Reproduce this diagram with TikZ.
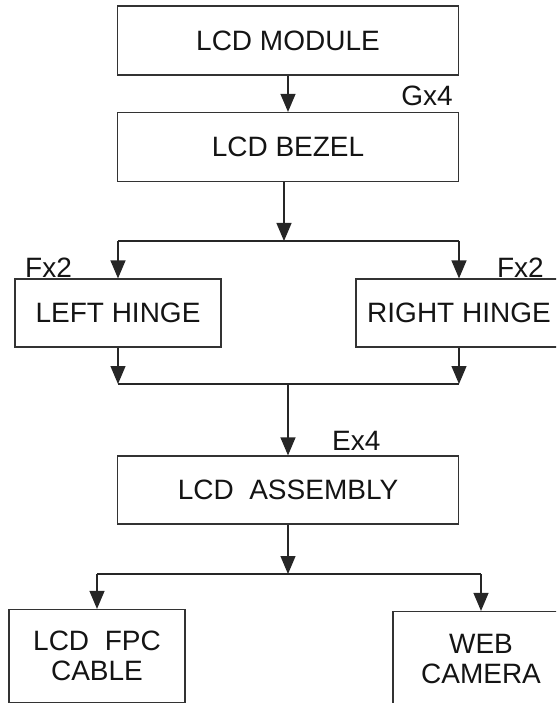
\documentclass[tikz,border=0pt]{standalone}
\usepackage{fontspec}
\setmainfont{Liberation Sans}
\usetikzlibrary{arrows.meta,positioning}

\begin{document}
\begin{tikzpicture}[x=1pt,y=-1pt]
  \def\wpart{341pt}     % width centre boxes
  \def\hpart{69pt}      % height boxes
  \def\whinge{206pt}    % width hinge boxes
  \def\wlow{176pt}      % width bottom boxes
  \def\hlow{93pt}       % height bottom boxes

  \tikzstyle{part}=[draw=black!80,line width=1.2pt,inner sep=0pt,
    minimum height=\hpart,text=black!92,font=\fontsize{28}{30}\selectfont]
  \tikzstyle{lbl}=[inner sep=0pt,text=black!92,font=\fontsize{28}{30}\selectfont]
  \tikzstyle{wire}=[black!85,line width=1.2pt]
  \tikzstyle{arr}=[wire,-{Triangle[width=15pt,length=18pt]}]

  \useasboundingbox (0,0) rectangle (556,703);
  \clip (0,0) rectangle (556,703);

  % BOXES
  \node[part,minimum width=\wpart] (module) at (288,40.5) {LCD MODULE};
  \node[part,minimum width=\wpart] (bezel) at (288,147) {LCD BEZEL};
  \node[part,minimum width=\whinge,minimum height=68pt] (lhinge) at (118,313) {LEFT HINGE};
  \node[part,minimum width=\whinge,minimum height=68pt] (rhinge) at (459,313) {RIGHT HINGE};
  \node[part,minimum width=\wpart,minimum height=68pt] (assy) at (288,490) {LCD\ \ ASSEMBLY};
  \node[part,minimum width=\wlow,minimum height=\hlow,align=center] (fpc) at (97,656) {LCD\ \ FPC\\CABLE};
  \node[part,minimum width=\wlow,minimum height=95pt,align=center] (cam) at (481,659) {WEB\\CAMERA};

  % QUANTITIES
  \node[lbl,anchor=base east] (gx) at (453,106) {Gx4};
  \node[lbl,anchor=base west] (fxl) at (25,277) {Fx2};
  \node[lbl,anchor=base east] (fxr) at (544,277) {Fx2};
  \node[lbl,anchor=base west] (ex) at (332,450) {Ex4};

  % BRANCH POINTS
  \coordinate (splitA) at (284,241);
  \coordinate (splitL) at (118,241);
  \coordinate (splitR) at (459,241);
  \coordinate (mergeL) at (118,384);
  \coordinate (mergeR) at (459,384);
  \coordinate (mergeC) at (288,384);
  \coordinate (splitB) at (288,574);
  \coordinate (splitBL) at (97,574);
  \coordinate (splitBR) at (481,574);

  % CONNECTORS
  \draw[arr] (module) -- (bezel);
  \draw[arr] (bezel.south -| splitA) -- (splitA);
  \draw[wire] (splitL) -- (splitR);
  \draw[arr] (splitL) -- (lhinge);
  \draw[arr] (splitR) -- (rhinge);
  \draw[arr] (lhinge) -- (mergeL);
  \draw[arr] (rhinge) -- (mergeR);
  \draw[wire] (mergeL) -- (mergeR);
  \draw[arr] (mergeC) -- (assy);
  \draw[arr] (assy) -- (splitB);
  \draw[wire] (splitBL) -- (splitBR);
  \draw[arr] (splitBL) -- (fpc);
  \draw[arr] (splitBR) -- (cam);
\end{tikzpicture}
\end{document}
